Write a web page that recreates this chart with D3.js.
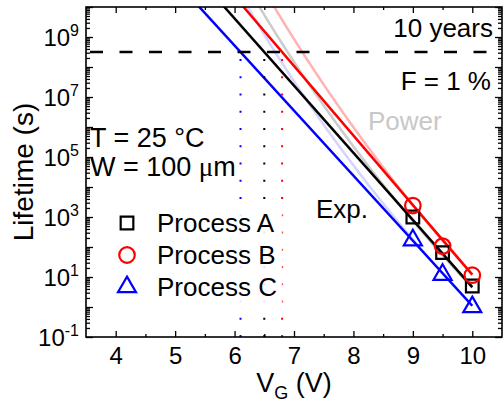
<!DOCTYPE html>
<html>
<head>
<meta charset="utf-8">
<script src="https://cdn.jsdelivr.net/npm/d3@7"></script>
<style>
  body { margin: 0; background: #fff; }
  text { font-family: "Liberation Sans", Arial, sans-serif; }
</style>
</head>
<body>
<svg width="504" height="410"></svg>
<script>
// measured lifetimes
const processes = ["Process A", "Process B", "Process C"];
const colors = ["#000000", "#ff0000", "#0000ff"];
const fadedColors = ["#cccccc", "#ffb3b3", "#d4d4ff"];
const gateVoltages = [9, 9.5, 10];
const lifetimeA = [1000, 65, 5];
const lifetimeB = [2400, 107, 11.5];
const lifetimeC = [170, 12, 1.0];
const lifetimes = [lifetimeA, lifetimeB, lifetimeC];

// exp fit: straight line in log space through (V at 10 years) and (tau at 10 V)
const expV10yr = [6.5, 6.8, 6.1];
const expTau10V = [4.6, 12, 1.1];
// power fit: tau = tau10 * (V / 10)^-n
const powTau10V = [4.4, 12, 1.1];
const powExponent = [48.6, 50.7, 48.3];

const tenYears = 3.15e8;
const xTicks = [4, 5, 6, 7, 8, 9, 10];
const xMinor = [4.5, 5.5, 6.5, 7.5, 8.5, 9.5];
const yLabelExps = [-1, 1, 3, 5, 7, 9];

const FONT = "'Liberation Sans', Arial, sans-serif";
const svg = d3.select("svg");

const mLeft = 86, mRight = 502, mTop = 7, mBottom = 337;

const x = d3.scaleLinear().domain([3.5, 10.5]).range([mLeft, mRight]);
const y = d3.scaleLog().domain([1e-1, 1e10]).range([mBottom, mTop]);

const decades = d3.range(-1, 11).map(e => Math.pow(10, e));
const minorY = [];
d3.range(-1, 10).forEach(e => {
  for (let m = 2; m <= 9; m++) minorY.push(m * Math.pow(10, e));
});

svg.append("clipPath").attr("id", "plot")
  .append("rect")
  .attr("x", mLeft).attr("y", mTop)
  .attr("width", mRight - mLeft).attr("height", mBottom - mTop);

const plot = svg.append("g").attr("clip-path", "url(#plot)");

// power fits (faint, underneath)
const vSamples = d3.range(5.5, 10.001, 0.02);
const line = d3.line().x(d => x(d[0])).y(d => y(d[1]));
processes.forEach((p, i) => {
  const pts = vSamples.map(v => [v, powTau10V[i] * Math.pow(v / 10, -powExponent[i])]);
  plot.append("path")
    .attr("d", line(pts))
    .attr("fill", "none")
    .attr("stroke", fadedColors[i])
    .attr("stroke-width", 2.5);
});

// exp fits
processes.forEach((p, i) => {
  const slope = (Math.log10(tenYears) - Math.log10(expTau10V[i])) / (10 - expV10yr[i]);
  const pts = [5, 10].map(v => [v, Math.pow(10, Math.log10(expTau10V[i]) + slope * (10 - v))]);
  plot.append("path")
    .attr("d", line(pts))
    .attr("fill", "none")
    .attr("stroke", colors[i])
    .attr("stroke-width", 2.5);
});

// 10 years line
plot.append("line")
  .attr("x1", x(3.5)).attr("x2", x(10.5))
  .attr("y1", y(tenYears)).attr("y2", y(tenYears))
  .attr("stroke", "#000")
  .attr("stroke-width", 2.5)
  .attr("stroke-dasharray", "13,16.5")
  .attr("stroke-dashoffset", -4);

// dotted drop lines
processes.forEach((p, i) => {
  plot.append("line")
    .attr("x1", x(expV10yr[i])).attr("x2", x(expV10yr[i]))
    .attr("y1", y(1e-1)).attr("y2", y(tenYears) + 4)
    .attr("stroke", colors[i])
    .attr("stroke-width", 2)
    .attr("stroke-dasharray", "2,15.25");
});

// markers
const symbols = [d3.symbolSquare, d3.symbolCircle, d3.symbolTriangle];
const symbolSizes = [160, 190, 140];
processes.forEach((p, i) => {
  svg.append("g")
    .selectAll("path")
    .data(gateVoltages.map((v, j) => [v, lifetimes[i][j]]))
    .enter()
    .append("path")
    .attr("transform", d => `translate(${x(d[0])},${y(d[1])})`)
    .attr("d", d3.symbol().type(symbols[i]).size(symbolSizes[i]))
    .attr("fill", "none")
    .attr("stroke", colors[i])
    .attr("stroke-width", 2.2);
});

// axes
function styleAxis(g) {
  g.select(".domain").remove();
  g.selectAll(".tick line").attr("stroke", "#000").attr("stroke-width", 1.3);
  g.selectAll("text").attr("font-size", 24).attr("fill", "#000").attr("font-family", FONT);
}

svg.append("g").attr("transform", `translate(0,${mBottom})`)
  .call(d3.axisBottom(x).tickValues(xTicks).tickFormat(d3.format("d"))
    .tickSizeInner(-6).tickSizeOuter(0).tickPadding(10))
  .call(styleAxis);
svg.append("g").attr("transform", `translate(0,${mBottom})`)
  .call(d3.axisBottom(x).tickValues(xMinor).tickSizeInner(-3).tickSizeOuter(0).tickFormat(""))
  .call(styleAxis);
svg.append("g").attr("transform", `translate(0,${mTop})`)
  .call(d3.axisTop(x).tickValues(xTicks).tickSizeInner(-6).tickSizeOuter(0).tickFormat(""))
  .call(styleAxis);
svg.append("g").attr("transform", `translate(0,${mTop})`)
  .call(d3.axisTop(x).tickValues(xMinor).tickSizeInner(-3).tickSizeOuter(0).tickFormat(""))
  .call(styleAxis);

const yLeft = svg.append("g").attr("transform", `translate(${mLeft},0)`)
  .call(d3.axisLeft(y).tickValues(decades).tickSizeInner(-7).tickSizeOuter(0).tickFormat(""))
  .call(styleAxis);
svg.append("g").attr("transform", `translate(${mLeft},0)`)
  .call(d3.axisLeft(y).tickValues(minorY).tickSizeInner(-4).tickSizeOuter(0).tickFormat(""))
  .call(styleAxis);
svg.append("g").attr("transform", `translate(${mRight},0)`)
  .call(d3.axisRight(y).tickValues(decades).tickSizeInner(-7).tickSizeOuter(0).tickFormat(""))
  .call(styleAxis);
svg.append("g").attr("transform", `translate(${mRight},0)`)
  .call(d3.axisRight(y).tickValues(minorY).tickSizeInner(-4).tickSizeOuter(0).tickFormat(""))
  .call(styleAxis);

// y tick labels with superscripts
yLabelExps.forEach(e => {
  const t = yLeft.append("text")
    .attr("x", -7)
    .attr("y", y(Math.pow(10, e)) + 8.5)
    .attr("text-anchor", "end")
    .attr("font-family", FONT)
    .attr("font-size", 24)
    .attr("fill", "#000");
  t.append("tspan").text("10");
  t.append("tspan").attr("dy", -10).attr("font-size", 16).text(e);
});

// frame
svg.append("rect")
  .attr("x", mLeft).attr("y", mTop)
  .attr("width", mRight - mLeft).attr("height", mBottom - mTop)
  .attr("fill", "none")
  .attr("stroke", "#000")
  .attr("stroke-width", 1.6);

// axis titles
svg.append("text")
  .attr("transform", `translate(33,${(mTop + mBottom) / 2}) rotate(-90)`)
  .attr("text-anchor", "middle")
  .attr("font-size", 28)
  .text("Lifetime (s)");

const xt = svg.append("text")
  .attr("x", (mLeft + mRight) / 2)
  .attr("y", 392)
  .attr("text-anchor", "middle")
  .attr("font-size", 27);
xt.append("tspan").text("V");
xt.append("tspan").attr("font-size", 18).attr("dy", 7).text("G");
xt.append("tspan").attr("dy", -7).text(" (V)");

// annotations
svg.append("text").attr("x", 493).attr("y", 37).attr("text-anchor", "end")
  .attr("font-size", 26).text("10 years");
svg.append("text").attr("x", 491).attr("y", 90).attr("text-anchor", "end")
  .attr("font-size", 26).text("F = 1 %");
svg.append("text").attr("x", 368).attr("y", 130)
  .attr("font-size", 26).attr("fill", "#c8c8c8").text("Power");
svg.append("text").attr("x", 316).attr("y", 218)
  .attr("font-size", 26).text("Exp.");
svg.append("text").attr("x", 90).attr("y", 147)
  .attr("font-size", 27).text("T = 25 °C");
const wt = svg.append("text").attr("x", 90).attr("y", 176).attr("font-size", 27);
wt.append("tspan").text("W = 100 ");
wt.append("tspan").attr("font-family", "'Liberation Serif', 'DejaVu Serif', serif").text("μ");
wt.append("tspan").text("m");

// legend (opaque box hides the drop lines behind it)
const legend = svg.append("g");
legend.append("rect")
  .attr("x", 100).attr("y", 201)
  .attr("width", 182.3).attr("height", 116)
  .attr("fill", "#fff")
  .attr("fill-opacity", 0.9);
processes.forEach((p, i) => {
  const ly = 223 + i * 32;
  legend.append("path")
    .attr("transform", `translate(127,${ly})`)
    .attr("d", d3.symbol().type(symbols[i]).size(symbolSizes[i]))
    .attr("fill", "none")
    .attr("stroke", colors[i])
    .attr("stroke-width", 2.2);
  legend.append("text")
    .attr("x", 157).attr("y", ly + 9)
    .attr("font-size", 26)
    .text(p);
});
</script>
</body>
</html>
